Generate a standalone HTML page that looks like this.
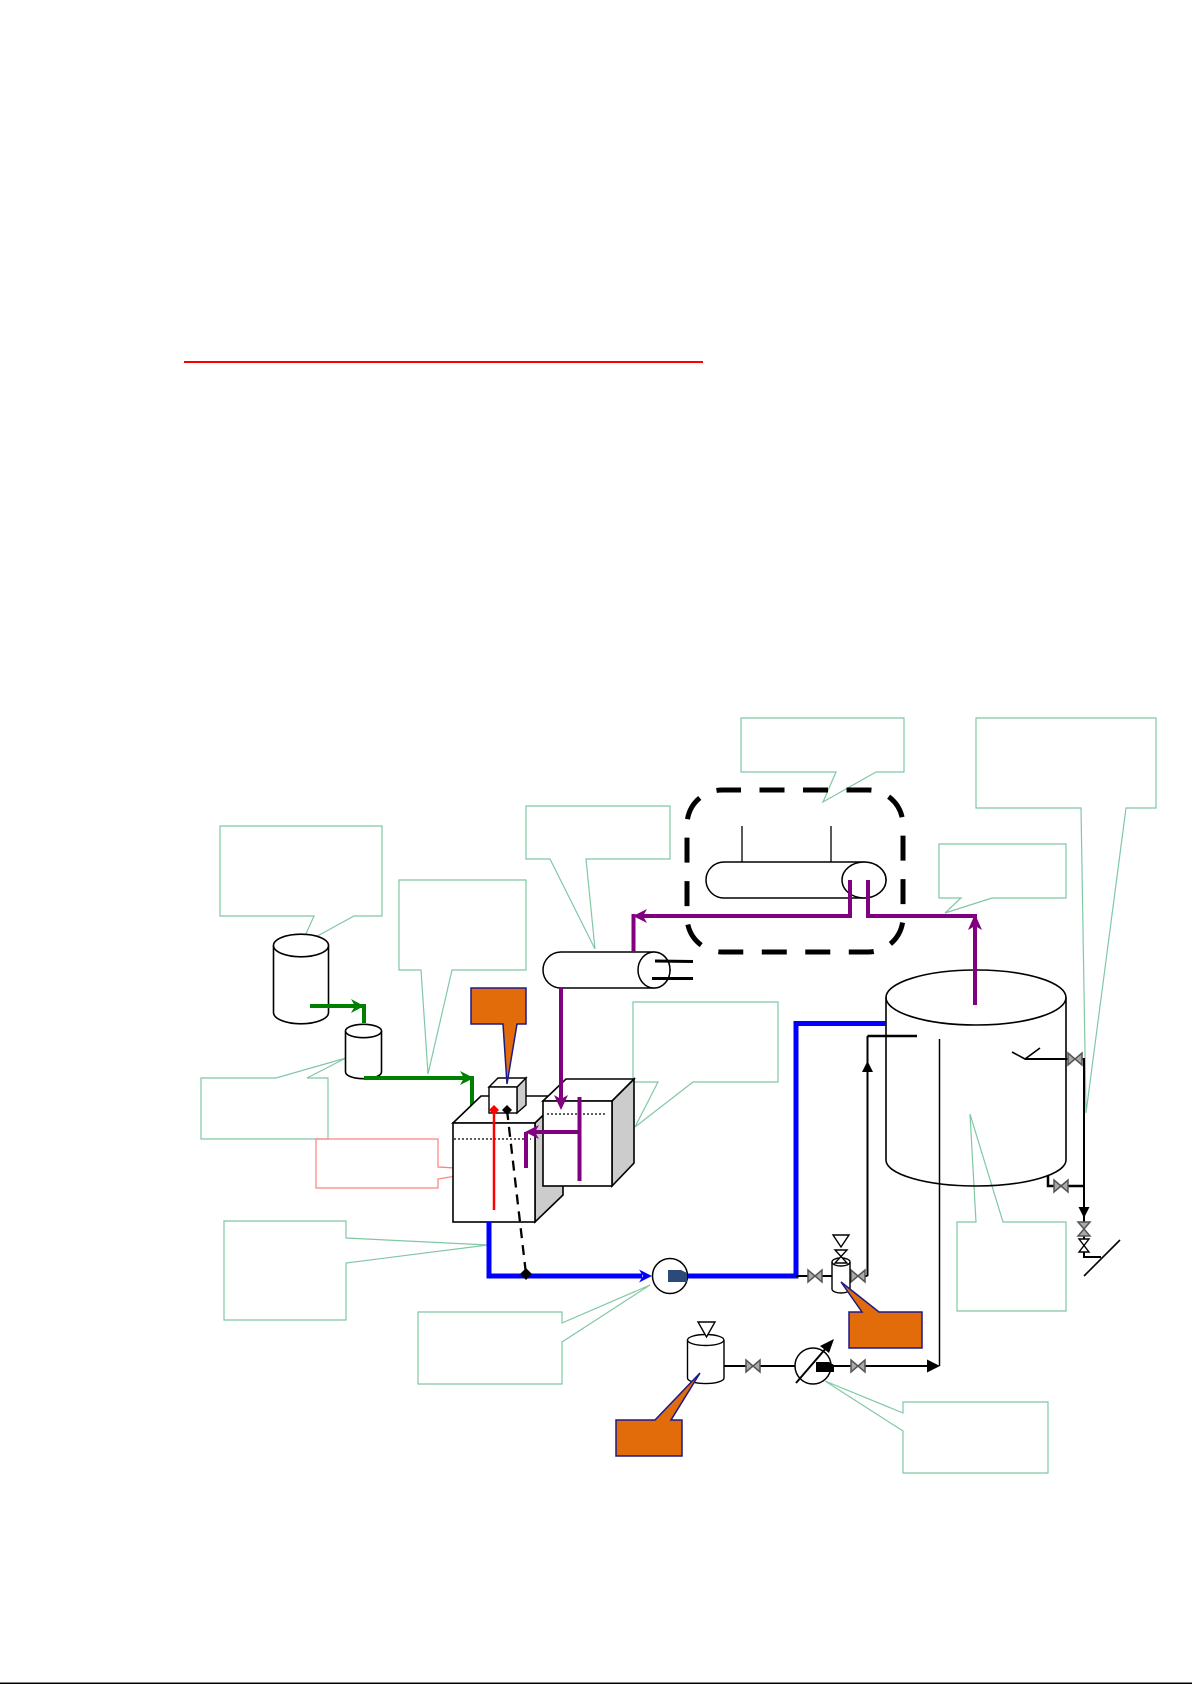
<!DOCTYPE html>
<html>
<head>
<meta charset="utf-8">
<style>
html,body{margin:0;padding:0;background:#fff;}
svg{display:block;}
</style>
</head>
<body>
<svg width="1192" height="1684" viewBox="0 0 1192 1684" xmlns="http://www.w3.org/2000/svg" font-family="Liberation Sans, sans-serif">
<rect x="0" y="0" width="1192" height="1684" fill="#fff"/>

<!-- red title underline -->
<rect x="184" y="361" width="519" height="2" fill="#ff0000"/>

<!-- callouts (green outlines) -->
<g fill="none" stroke="#80c8a4" stroke-width="1.2">
<path d="M220 826 H382 V916 H354 L301 945 L314 916 H220 Z"/>
<path d="M399 880 H526 V970 H452 L428 1074 L421 970 H399 Z"/>
<path d="M526 806 H670 V859 H586 L595 949 L550 859 H526 Z"/>
<path d="M741 718 H904 V772 H876 L823 802 L836 772 H741 Z"/>
<path d="M976 718 H1156 V808 H1126 L1086 1113 L1081 808 H976 Z"/>
<path d="M939 844 H1066 V898 H992 L945 913 L961 898 H939 Z"/>
<path d="M201 1078 H276 L346 1058 L307 1078 H328 V1139 H201 Z"/>
<path d="M224 1221 H346 V1238 L488 1245 L346 1263 V1320 H224 Z"/>
<path d="M633 1002 H778 V1082 H693 L635 1127 L658 1082 H633 Z"/>
<path d="M418 1312 H562 V1323 L650 1285 L562 1342 V1384 H418 Z"/>
<path d="M957 1222 H976 L970 1114 L1003 1222 H1066 V1311 H957 Z"/>
<path d="M903 1402 H1048 V1473 H903 V1431 L825 1381 L903 1413 Z"/>
</g>
<!-- red callout -->
<path d="M316 1139 H438 V1167 L492 1170 L438 1179 V1188 H316 Z" fill="none" stroke="#ff8080" stroke-width="1.2"/>

<!-- dashed rounded enclosure -->
<rect x="687" y="790" width="216" height="162" rx="35" ry="35" fill="none" stroke="#000" stroke-width="5" stroke-dasharray="25 18.5" stroke-dashoffset="6"/>

<!-- vessel inside enclosure -->
<line x1="742" y1="826" x2="742" y2="862" stroke="#000" stroke-width="1.3"/>
<line x1="831" y1="826" x2="831" y2="862" stroke="#000" stroke-width="1.3"/>
<path d="M724 862 H864 A22 18 0 0 1 864 898 H724 A18 18 0 0 1 724 862 Z" fill="#fff" stroke="#000" stroke-width="1.5"/>
<ellipse cx="864" cy="880" rx="22" ry="18" fill="#fff" stroke="#000" stroke-width="1.5"/>

<!-- condenser -->
<path d="M561 952 H654 A16 18 0 0 1 654 988 H561 A18 18 0 0 1 561 952 Z" fill="#fff" stroke="#000" stroke-width="1.5"/>
<ellipse cx="654" cy="970" rx="16" ry="18" fill="#fff" stroke="#000" stroke-width="1.5"/>
<line x1="655" y1="961" x2="693" y2="961.5" stroke="#000" stroke-width="3"/>
<line x1="652" y1="978.5" x2="693" y2="978.5" stroke="#000" stroke-width="3"/>

<!-- big tank -->
<path d="M886 997.5 V1160 A90 26 0 0 0 1066 1160 V997.5" fill="none" stroke="#000" stroke-width="1.6"/>
<ellipse cx="976" cy="997.5" rx="90" ry="27.5" fill="none" stroke="#000" stroke-width="1.6"/>
<line x1="867.5" y1="1036" x2="917" y2="1036" stroke="#000" stroke-width="2.5"/>
<line x1="867.5" y1="1036" x2="867.5" y2="1276" stroke="#000" stroke-width="2"/>
<polygon points="867.5,1061 862,1072 873,1072" fill="#000"/>
<line x1="939.5" y1="1039" x2="939.5" y2="1366" stroke="#000" stroke-width="1.5"/>
<polyline points="1012,1052 1025,1059 1040,1048" fill="none" stroke="#000" stroke-width="1.6"/>
<polyline points="1025,1059 1084,1059 1084,1257 1101,1257" fill="none" stroke="#000" stroke-width="2"/>
<polyline points="1048,1176 1048,1186 1084,1186" fill="none" stroke="#000" stroke-width="2.5"/>
<polygon points="1084,1218 1078.5,1207 1089.5,1207" fill="#000"/>
<line x1="1120" y1="1240" x2="1084" y2="1276" stroke="#000" stroke-width="1.6"/>

<!-- gray valves -->
<g fill="#aaa" stroke="#555" stroke-width="1.5">
<path d="M1068 1053 L1068 1065 L1082 1053 L1082 1065 Z"/>
<path d="M1054 1180 L1054 1192 L1068 1180 L1068 1192 Z"/>
<path d="M1078 1222 L1090 1222 L1078 1236 L1090 1236 Z"/>
</g>
<path d="M1079 1239 L1089 1239 L1079 1252 L1089 1252 Z" fill="#fff" stroke="#000" stroke-width="1.4"/>

<!-- big cylinder (left) -->
<path d="M273.5 945.5 V1012.5 A27.5 11.3 0 0 0 328.5 1012.5 V945.5" fill="#fff" stroke="#000" stroke-width="1.6"/>
<ellipse cx="301" cy="945.5" rx="27.5" ry="11.3" fill="#fff" stroke="#000" stroke-width="1.6"/>
<!-- small cylinder -->
<path d="M345.5 1031 V1072 A18 6.7 0 0 0 381.5 1072 V1031" fill="#fff" stroke="#000" stroke-width="1.6"/>
<ellipse cx="363.5" cy="1031" rx="18" ry="6.7" fill="#fff" stroke="#000" stroke-width="1.6"/>

<!-- green lines -->
<g stroke="#008000" stroke-width="4" fill="none">
<polyline points="310,1006 364,1006 364,1023"/>
<polyline points="364,1078 472,1078 472,1114"/>
</g>
<polygon points="364,1006 351,999 355,1006 351,1013" fill="#008000"/>
<polygon points="474,1078 460,1071 464,1078 460,1085" fill="#008000"/>

<!-- main 3D box -->
<polygon points="535,1123 563,1096 563,1195 535,1222" fill="#cccccc" stroke="#000" stroke-width="1.6"/>
<polygon points="453,1123 481,1096 563,1096 535,1123" fill="#fff" stroke="#000" stroke-width="1.6"/>
<rect x="453" y="1123" width="82" height="99" fill="#fff" stroke="#000" stroke-width="1.6"/>
<line x1="454" y1="1139" x2="531" y2="1139" stroke="#000" stroke-width="1.2" stroke-dasharray="2 2"/>

<!-- small box on top -->
<polygon points="517,1087 526,1078 526,1105 517,1113" fill="#cccccc" stroke="#000" stroke-width="1.4"/>
<polygon points="489,1087 498,1078 526,1078 517,1087" fill="#fff" stroke="#000" stroke-width="1.4"/>
<rect x="489" y="1087" width="28" height="26" fill="#fff" stroke="#000" stroke-width="1.4"/>

<!-- second 3D box -->
<polygon points="612,1101 634,1079 634,1163 612,1186" fill="#cccccc" stroke="#000" stroke-width="1.6"/>
<polygon points="543,1101 566,1079 634,1079 612,1101" fill="#fff" stroke="#000" stroke-width="1.6"/>
<rect x="543" y="1101" width="69" height="85" fill="#fff" stroke="#000" stroke-width="1.6"/>
<line x1="547" y1="1114" x2="607" y2="1114" stroke="#000" stroke-width="1.2" stroke-dasharray="2 2"/>

<!-- purple lines -->
<g stroke="#800080" stroke-width="4" fill="none">
<polyline points="850,880 850,916 638,916"/>
<line x1="633.5" y1="914" x2="633.5" y2="952"/>
<polyline points="868,880 868,916 975,916 975,1005"/>
<line x1="561" y1="988" x2="561" y2="1100"/>
<line x1="579.5" y1="1097" x2="579.5" y2="1181"/>
<line x1="579.5" y1="1132" x2="532" y2="1132"/>
<line x1="526" y1="1132" x2="526" y2="1168"/>
</g>
<polygon points="633,916 647,909 643,916 647,923" fill="#800080"/>
<polygon points="975,914 968,930 975,926 982,930" fill="#800080"/>
<polygon points="561,1110 554,1095 561,1099 568,1095" fill="#800080"/>
<polygon points="525,1132 539,1125 535,1132 539,1139" fill="#800080"/>

<!-- red line -->
<line x1="494" y1="1210" x2="494" y2="1112" stroke="#ff0000" stroke-width="2.5"/>
<polygon points="494,1105 499,1110 494,1115 489,1110" fill="#ff0000"/>

<!-- dashed black signal line -->
<line x1="507" y1="1110" x2="526" y2="1274" stroke="#000" stroke-width="2.3" stroke-dasharray="10 7"/>
<polygon points="507,1105 512,1110 507,1115 502,1110" fill="#000"/>

<!-- blue lines -->
<g stroke="#0000ff" stroke-width="5" fill="none">
<polyline points="489,1222 489,1276 642,1276"/>
<polyline points="688,1276 796,1276 796,1023.5 886,1023.5"/>
</g>
<polygon points="652,1276 639,1269.5 643,1276 639,1282.5" fill="#0000ff"/>
<polygon points="526,1268 532,1274 526,1280 520,1274" fill="#000"/>

<!-- pump 1 -->
<circle cx="670" cy="1276" r="17.5" fill="#fff" stroke="#000" stroke-width="1.5"/>
<path d="M668 1270 H681 L687 1273 V1282 H668 Z" fill="#2b4a78"/>

<!-- black line with instrument -->
<line x1="796" y1="1276" x2="867.5" y2="1276" stroke="#000" stroke-width="2"/>
<g fill="#aaa" stroke="#555" stroke-width="1.5">
<path d="M808 1270 L808 1282 L822 1270 L822 1282 Z"/>
<path d="M851 1270 L851 1282 L865 1270 L865 1282 Z"/>
</g>
<path d="M832 1262 V1289 A9 4 0 0 0 850 1289 V1262" fill="#fff" stroke="#000" stroke-width="1.4"/>
<ellipse cx="841" cy="1262" rx="9" ry="4" fill="#fff" stroke="#000" stroke-width="1.4"/>
<polygon points="833,1235 849,1235 841,1247" fill="#fff" stroke="#000" stroke-width="1.4"/>
<path d="M835 1250 L847 1250 L835 1263 L847 1263 Z" fill="#fff" stroke="#000" stroke-width="1.4"/>

<!-- bottom line with pump 2 -->
<line x1="724" y1="1366" x2="930" y2="1366" stroke="#000" stroke-width="2"/>
<polygon points="940,1366 927,1359.5 927,1372.5" fill="#000"/>
<g fill="#aaa" stroke="#555" stroke-width="1.5">
<path d="M746 1360 L746 1372 L760 1360 L760 1372 Z"/>
<path d="M851 1360 L851 1372 L865 1360 L865 1372 Z"/>
</g>
<circle cx="813" cy="1366" r="18" fill="#fff" stroke="#000" stroke-width="1.5"/>
<path d="M816 1362 H829 L834 1365 V1372 H816 Z" fill="#000"/>
<line x1="796" y1="1383" x2="827" y2="1347" stroke="#000" stroke-width="2"/>
<polygon points="834,1339 820,1346 829,1353" fill="#000"/>

<!-- bottom cylinder -->
<path d="M687.5 1340 V1378 A18 5.5 0 0 0 724 1378 V1340" fill="#fff" stroke="#000" stroke-width="1.4"/>
<ellipse cx="705.7" cy="1340" rx="18.2" ry="5.5" fill="#fff" stroke="#000" stroke-width="1.4"/>
<polygon points="698,1322 715,1322 706.5,1337" fill="#fff" stroke="#000" stroke-width="1.4"/>

<!-- orange callouts -->
<g fill="#e36c0a" stroke="#1a1a8c" stroke-width="1.5">
<path d="M471 988 H526 V1024 H517 L507 1084 L503 1024 H471 Z"/>
<path d="M849 1312 H862 L841 1282 L879 1312 H922 V1348 H849 Z"/>
<path d="M616 1420 H655 L700 1373 L671 1420 H682 V1456 H616 Z"/>
</g>

<!-- bottom border line -->
<rect x="0" y="1682.5" width="1192" height="1.5" fill="#000"/>
</svg>
</body>
</html>
